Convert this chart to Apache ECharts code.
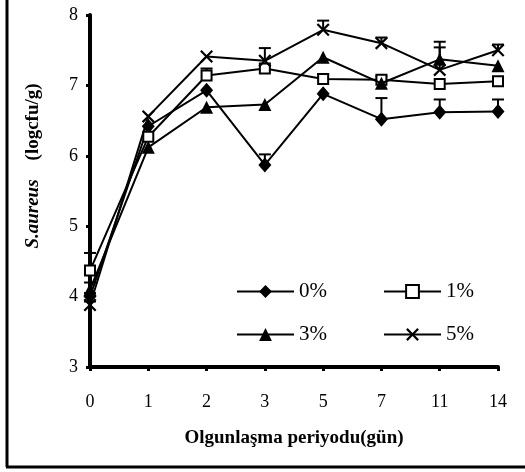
<!DOCTYPE html>
<html><head><meta charset="utf-8">
<script src="https://cdn.jsdelivr.net/npm/echarts@6/dist/echarts.min.js"></script>
<style>html,body{margin:0;padding:0;background:#fff}#c{width:525px;height:472px}</style>
</head><body><div id="c"></div>
<script>
const categories = ['0','1','2','3','5','7','11','14'];
const seriesNames = ['0%','1%','3%','5%'];
const v0 = [4.0, 6.42, 6.93, 5.87, 6.88, 6.52, 6.62, 6.63];
const v1 = [4.37, 6.27, 7.14, 7.24, 7.09, 7.08, 7.02, 7.06];
const v3 = [4.1, 6.12, 6.69, 6.73, 7.4, 7.03, 7.37, 7.28];
const v5 = [3.88, 6.56, 7.41, 7.35, 7.79, 7.6, 7.22, 7.5];
const e0 = [0.05, 0, 0, 0.15, 0, 0.3, 0.18, 0.17];
const e1 = [0.25, 0, 0.1, 0, 0.07, 0.05, 0, 0];
const e3 = [0.1, 0, 0, 0, 0, 0, 0.17, 0];
const e5 = [0.05, 0, 0, 0.18, 0.13, 0.08, 0.4, 0.08];
const yTicks = [3, 4, 5, 6, 7, 8];

const FONT = '"Liberation Serif","DejaVu Serif",serif';
const xSym = 'path://M0,1.2L1.2,0L5,3.8L8.8,0L10,1.2L6.2,5L10,8.8L8.8,10L5,6.2L1.2,10L0,8.8L3.8,5Z';
const styles = [
  {symbol: 'diamond', symbolSize: [13, 15], color: '#000', border: 0},
  {symbol: 'rect', symbolSize: 10, color: '#fff', border: 2},
  {symbol: 'triangle', symbolSize: [13, 13], color: '#000', border: 0},
  {symbol: xSym, symbolSize: 13, color: '#000', border: 0}
];
const vals = [v0, v1, v3, v5];
const errs = [e0, e1, e3, e5];

const chart = echarts.init(document.getElementById('c'));
const series = [];
vals.forEach((v, i) => {
  const s = styles[i];
  series.push({
    name: seriesNames[i], type: 'line', data: v, z: 3 + i,
    symbol: s.symbol, symbolSize: s.symbolSize, showAllSymbol: true,
    lineStyle: {color: '#000', width: 2},
    itemStyle: {color: s.color, borderColor: '#000', borderWidth: s.border},
    emphasis: {disabled: true}, animation: false
  });
});
errs.forEach((e, i) => {
  series.push({
    type: 'custom', z: 2, animation: false, silent: true,
    data: vals[i].map((y, k) => [k, y, e[k]]),
    renderItem: (params, api) => {
      const err = api.value(2);
      if (!err) return null;
      const p0 = api.coord([api.value(0), api.value(1)]);
      const p1 = api.coord([api.value(0), api.value(1) + err]);
      const style = {stroke: '#000', lineWidth: 2, fill: null};
      return {type: 'group', children: [
        {type: 'line', shape: {x1: p0[0], y1: p0[1], x2: p1[0], y2: p1[1]}, style},
        {type: 'line', shape: {x1: p1[0] - 6, y1: p1[1], x2: p1[0] + 6, y2: p1[1]}, style}
      ]};
    }
  });
});

const legendPos = [[231, 276], [378, 276], [231, 319], [378, 319]];
const legends = seriesNames.map((n, i) => ({
  data: [n], left: legendPos[i][0], top: legendPos[i][1],
  itemWidth: 57, itemHeight: 16, itemGap: 0, selectedMode: false,
  textStyle: {fontFamily: FONT, fontSize: 21, color: '#000', padding: [0, 0, 0, 0]}
}));

chart.setOption({
  animation: false,
  backgroundColor: '#fff',
  grid: {left: 90, right: 27, top: 15, bottom: 105, containLabel: false},
  legend: legends,
  xAxis: {
    type: 'category', data: categories, boundaryGap: false,
    axisLine: {lineStyle: {color: '#000', width: 4}},
    axisTick: {show: true, alignWithLabel: true, length: 4, lineStyle: {color: '#000', width: 3}},
    axisLabel: {fontFamily: FONT, fontSize: 18, color: '#000', margin: 26},
    name: 'Olgunlaşma periyodu(gün)', nameLocation: 'middle', nameGap: 62,
    nameTextStyle: {fontFamily: FONT, fontSize: 19, fontWeight: 'bold', color: '#000'},
    splitLine: {show: false}
  },
  yAxis: {
    type: 'value', min: yTicks[0], max: yTicks[yTicks.length - 1], interval: 1,
    axisLine: {show: true, lineStyle: {color: '#000', width: 4}},
    axisTick: {show: true, length: 4, lineStyle: {color: '#000', width: 3}},
    axisLabel: {fontFamily: FONT, fontSize: 18, color: '#000', margin: 12},
    splitLine: {show: false}
  },
  graphic: [
    {type: 'line', shape: {x1: 7, y1: 0, x2: 7, y2: 467}, style: {stroke: '#000', lineWidth: 3}},
    {type: 'line', shape: {x1: 6, y1: 467, x2: 525, y2: 467}, style: {stroke: '#000', lineWidth: 3}},
    {type: 'text', x: 33, y: 166, rotation: Math.PI / 2,
     style: {text: '{i|S.aureus}    (logcfu/g)', align: 'center', verticalAlign: 'middle',
       font: 'bold 19px ' + FONT, fill: '#000',
       rich: {i: {fontFamily: FONT, fontSize: 19, fontWeight: 'bold', fontStyle: 'italic', fill: '#000', color: '#000'}}}}
  ],
  series
});
</script>
</body></html>
